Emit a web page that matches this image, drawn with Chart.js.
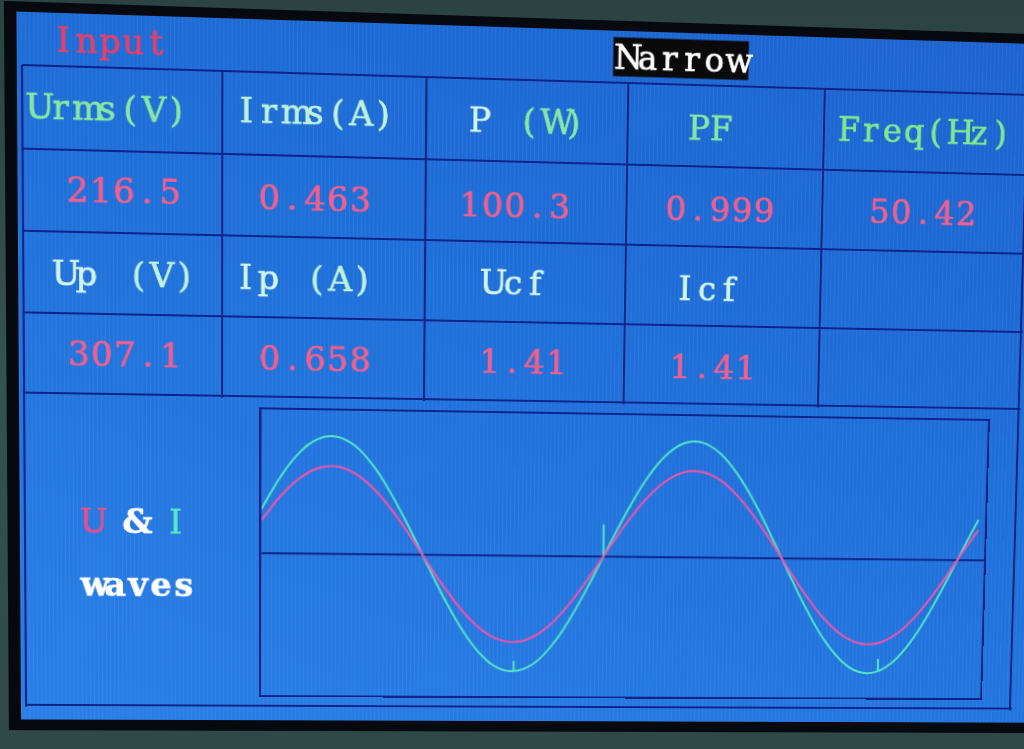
<!DOCTYPE html>
<html><head><meta charset="utf-8"><title>Input - U &amp; I waves</title>
<script src="https://cdn.jsdelivr.net/npm/chart.js@4.4.1/dist/chart.umd.min.js"></script>
<style>
html,body{margin:0;padding:0;}
body{width:1024px;height:749px;overflow:hidden;position:relative;background:linear-gradient(180deg,#2b4341 0%,#35524f 50%,#2e4947 100%);}
#world{position:absolute;left:0;top:0;width:1100px;height:760px;transform-origin:0 0;}
.abs{position:absolute;}
#bezel{background:#06090d;}
#blue{background:repeating-linear-gradient(90deg,rgba(255,255,255,0.05) 0px,rgba(255,255,255,0.05) 1px,rgba(255,255,255,0) 1px,rgba(255,255,255,0) 4px),linear-gradient(200deg,#1c63cf 0%,#1f6fd9 45%,#2a7fe6 100%);}
.hl{position:absolute;height:2px;background:#0f2388;}
.vl{position:absolute;width:2px;background:#0f2388;}
.t{position:absolute;font-family:"DejaVu Serif","Liberation Serif",serif;font-size:33px;line-height:33px;white-space:pre;transform:translate(-50%,-50%);-webkit-text-stroke:0.7px currentColor;}
.t span{display:inline-block;text-align:center;}
#boxBorder{box-sizing:border-box;border:2px solid #0f2388;}
</style></head>
<body>
<div id="world">
  <div id="bezel" class="abs"></div>
  <div id="blue" class="abs"></div>
  <div id="grid"></div>
  <div id="chartBox" class="abs"><canvas id="c"></canvas></div>
  <div id="boxBorder" class="abs"></div>
  <div id="texts"></div>
</div>
<script>
// ---------------- data ----------------
const timeMs = [0,1,2,3,4,5,6,7,8,9,10,11,12,13,14,15,16,17,18,19,20,21,22,23,24,25,26,27,28,29,30,31,32,33,34,35,36,37,38,39,39.6];
const uVolts = [115,198,261,298,306,283,232,158,68,-29,-122,-204,-265,-300,-305,-280,-227,-151,-60,37,130,210,269,302,304,277,221,144,52,-45,-137,-216,-273,-303,-303,-273,-216,-137,-44,52,108];
const iAmps = [0.247,0.424,0.560,0.640,0.656,0.607,0.497,0.338,0.146,-0.061,-0.263,-0.438,-0.569,-0.644,-0.652,-0.600,-0.486,-0.324,-0.129,0.078,0.278,0.450,0.577,0.647,0.652,0.593,0.474,0.309,0.112,-0.095,-0.293,-0.463,-0.585,-0.650,-0.649,-0.585,-0.462,-0.293,-0.095,0.113,0.232];
// short glitches seen on the current trace (pairs of points, null = gap)
const iGlitchT = [13.75,13.75,16,18.62,18.62,26,34.1,34.1];
const iGlitchA = [-0.652,-0.598,null,0.000,0.183,null,-0.645,-0.575];

const title = 'Input';
const mode = 'Narrow';
const headers1 = ['Urms(V)','Irms(A)','P (W)','PF','Freq(Hz)'];
const values1 = ['216.5','0.463','100.3','0.999','50.42'];
const headers2 = ['Up (V)','Ip (A)','Ucf','Icf'];
const values2 = ['307.1','0.658','1.41','1.41'];
const waveLabel1 = 'U & I';
const waveLabel2 = 'waves';

// ---------------- perspective of the photographed screen ----------------
function solveH(src, dst){
  const A=[],B=[];
  for(let i=0;i<4;i++){
    const u=src[i][0],v=src[i][1],x=dst[i][0],y=dst[i][1];
    A.push([u,v,1,0,0,0,-u*x,-v*x]);B.push(x);
    A.push([0,0,0,u,v,1,-u*y,-v*y]);B.push(y);
  }
  const n=8;
  for(let c=0;c<n;c++){
    let p=c;for(let r=c+1;r<n;r++) if(Math.abs(A[r][c])>Math.abs(A[p][c])) p=r;
    [A[c],A[p]]=[A[p],A[c]];[B[c],B[p]]=[B[p],B[c]];
    for(let r=0;r<n;r++){ if(r===c) continue; const f=A[r][c]/A[c][c];
      for(let k=c;k<n;k++) A[r][k]-=f*A[c][k]; B[r]-=f*B[c]; }
  }
  const h=B.map((b,i)=>b/A[i][i]);
  return [[h[0],h[1],h[2]],[h[3],h[4],h[5]],[h[6],h[7],1]];
}
function inv3(m){
  const [a,b,c]=m[0],[d,e,f]=m[1],[g,h,i]=m[2];
  const A=e*i-f*h,B=-(d*i-f*g),C=d*h-e*g;
  const det=a*A+b*B+c*C;
  const r=[[A,-(b*i-c*h),b*f-c*e],[B,a*i-c*g,-(a*f-c*d)],[C,-(a*h-b*g),a*e-b*d]];
  return r.map(row=>row.map(x=>x/det));
}
function apply(M,x,y){const w=M[2][0]*x+M[2][1]*y+M[2][2];return [(M[0][0]*x+M[0][1]*y+M[0][2])/w,(M[1][0]*x+M[1][1]*y+M[1][2])/w];}

const flatPts=[[22,65],[998,65],[22,695],[998,695]];
const photoPts=[[22,65],[998,94],[26,695],[981,699]];
const H=solveH(flatPts,photoPts);
const Hi=inv3(H);
const toFlat=(x,y)=>apply(Hi,x,y);
document.getElementById('world').style.transform=
  `matrix3d(${H[0][0]},${H[1][0]},0,${H[2][0]},${H[0][1]},${H[1][1]},0,${H[2][1]},0,0,1,0,${H[0][2]},${H[1][2]},0,1)`;

function place(el,l,t,w,h){el.style.left=l+'px';el.style.top=t+'px';el.style.width=w+'px';el.style.height=h+'px';}

// screen + bezel
const sL=toFlat(19,360)[0], sT=toFlat(300,21)[1], sB=toFlat(150,720)[1], sR=1090;
place(document.getElementById('blue'),sL,sT,sR-sL,sB-sT);
place(document.getElementById('bezel'),sL-12,sT-10,sR-sL+24,sB-sT+21);

// table grid
const grid=document.getElementById('grid');
function hline(u0,u1,v){const d=document.createElement('div');d.className='hl';place(d,u0,v-1,u1-u0+2,2);grid.appendChild(d);}
function vline(u,v0,v1){const d=document.createElement('div');d.className='vl';place(d,u-1,v0,2,v1-v0+2);grid.appendChild(d);}
const rowPhotoY=[65,149,231,312,393];
const rowV=rowPhotoY.map(y=>toFlat(24,y)[1]);
const colPhoto=[[22,65],[222,71],[427,77],[628,83],[825,89]];
const colU=colPhoto.map(p=>toFlat(p[0],p[1])[0]);
const vBottom=toFlat(25,705)[1];
const uRight=toFlat(1010,708)[0];
rowV.forEach(v=>hline(colU[0],uRight,v));
hline(colU[0],uRight,vBottom);
vline(colU[0],rowV[0],vBottom);
vline(uRight,rowV[0],vBottom);
for(let i=1;i<colU.length;i++) vline(colU[i],rowV[0],rowV[4]);

// texts
const texts=document.getElementById('texts');
function addText(str,px,py,styles,opt){
  opt=opt||{};
  const p=toFlat(px,py);
  const d=document.createElement('div');d.className='t';
  d.style.left=p[0]+'px';d.style.top=p[1]+'px';
  const pitch=opt.pitch||22.5;
  [...str].forEach((ch,i)=>{
    const s=document.createElement('span');s.textContent=ch;
    s.style.width=((ch===' '&&opt.space)?opt.space:pitch)+'px';
    const st=Array.isArray(styles)?styles[i]:styles;
    s.style.color=st.c||st; if(st.b) s.style.fontWeight='bold';
    d.appendChild(s);
  });
  if(opt.bg){d.style.background=opt.bg;d.style.padding=opt.pad||'1px 2px';}
  texts.appendChild(d);
  return d;
}
const G='#86e8a4', M='#bdf2dc', W='#d2f6ec', PK='#f0608e';
addText(title,110,41,'#e6406a');
addText(mode,681,59,'#ffffff',{bg:'#0a0a0a',pad:'3px 1px'});

const h1Pos=[[107,108],[315,112.5],[527,121],[710,128.5],[925,131.5]];
const h1Sty=[G,M,[W,W,G,G,G],G,'#80e890'];
const h1Opt=[{},{},{space:26.5},{},{}];
headers1.forEach((s,i)=>addText(s,h1Pos[i][0],h1Pos[i][1],h1Sty[i],h1Opt[i]));

const v1Pos=[[124,191],[315,198.5],[515,205],[720,209.5],[923,212]];
values1.forEach((s,i)=>addText(s,v1Pos[i][0],v1Pos[i][1],PK));

const h2Pos=[[124,274],[304,278.5],[513,283],[707,289]];
const h2Sty=[[W,W,W,M,M,M],[W,W,W,M,M,M],W,W];
const h2Opt=[{space:28},{space:25.5},{},{}];
headers2.forEach((s,i)=>addText(s,h2Pos[i][0],h2Pos[i][1],h2Sty[i],h2Opt[i]));

const v2Pos=[[125,354],[315,358.5],[523,362],[713,366.5]];
values2.forEach((s,i)=>addText(s,v2Pos[i][0],v2Pos[i][1],PK));

addText(waveLabel1,133,521.5,['#e4508e','#fff',{c:'#ffffff',b:1},'#fff','#5ae8c8'],{pitch:21});
addText(waveLabel2,138,584.5,{c:'#ffffff',b:1},{pitch:22.6});

// chart box
const bTL=toFlat(261,408), bBR=toFlat(981,699);
const cb=document.getElementById('chartBox');
place(cb,bTL[0],bTL[1],bBR[0]-bTL[0],bBR[1]-bTL[1]);
place(document.getElementById('boxBorder'),bTL[0]-1,bTL[1]-1,bBR[0]-bTL[0]+2,bBR[1]-bTL[1]+2);

const uPts=timeMs.map((t,i)=>({x:t,y:uVolts[i]}));
const iPts=timeMs.map((t,i)=>({x:t,y:iAmps[i]}));
const gPts=iGlitchT.map((t,i)=>({x:t,y:iGlitchA[i]}));

const zeroLine={id:'zeroLine',beforeDatasetsDraw(chart){
  const ctx=chart.ctx,a=chart.chartArea,y=chart.scales.yU.getPixelForValue(0);
  ctx.save();ctx.strokeStyle='#0f2388';ctx.lineWidth=2;
  ctx.beginPath();ctx.moveTo(a.left,y);ctx.lineTo(a.right,y);ctx.stroke();ctx.restore();
}};

new Chart(document.getElementById('c'),{
  type:'line',
  data:{datasets:[
    {label:'U (V)',data:uPts,yAxisID:'yU',borderColor:'#e656ac',borderWidth:2.2,pointRadius:0,tension:0.4,fill:false},
    {label:'I (A)',data:iPts,yAxisID:'yI',borderColor:'#52e8c6',borderWidth:2,pointRadius:0,tension:0.4,fill:false},
    {label:'I glitch',data:gPts,yAxisID:'yI',borderColor:'#52e8c6',borderWidth:2,pointRadius:0,tension:0,spanGaps:false,fill:false}
  ]},
  options:{
    responsive:true,maintainAspectRatio:false,animation:false,events:[],
    layout:{padding:0},
    plugins:{legend:{display:false},tooltip:{enabled:false},title:{display:false}},
    scales:{
      x:{type:'linear',min:0,max:40,display:false},
      yU:{type:'linear',min:-500,max:500,display:false},
      yI:{type:'linear',min:-0.8,max:0.8,display:false}
    }
  },
  plugins:[zeroLine]
});
</script>
</body></html>
